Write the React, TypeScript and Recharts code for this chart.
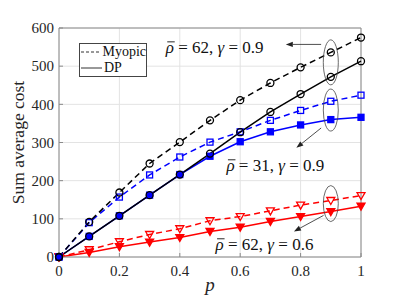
import { LineChart, Line, XAxis, YAxis, CartesianGrid, ReferenceLine, ReferenceDot, Legend } from 'recharts';

const P = [0, 0.1, 0.2, 0.3, 0.4, 0.5, 0.6, 0.7, 0.8, 0.9, 1];
const blackMyopic = [0, 92, 169, 245, 301, 358, 411, 456, 497, 536, 575];
const blackDP = [0, 54, 108, 162, 216, 271, 327, 380, 427, 472, 513];
const blueMyopic = [0, 90, 157, 215, 262, 301, 328, 358, 384, 408, 424];
const blueDP = [0, 54, 108, 162, 216, 264, 302, 328, 346, 360, 366];
const redMyopic = [0, 19, 40, 59, 74, 95, 106, 121, 136, 148, 161];
const redDP = [0, 12, 27, 39, 51, 67, 78, 93, 106, 119, 133];

const xTicks = [0, 0.2, 0.4, 0.6, 0.8, 1];
const yTicks = [0, 100, 200, 300, 400, 500, 600];

// annotation anchors in data units: [p, value]
const ellipses = [
  { p: 0.9, v: 510, ry: 22.5 },
  { p: 0.9, v: 385, ry: 21 },
  { p: 0.9, v: 140, ry: 18 },
];
const arrows = [
  { from: [0.868, 557], to: [0.751, 557] },
  { from: [0.868, 338], to: [0.786, 286] },
  { from: [0.876, 109], to: [0.778, 67] },
];
const notes = [
  { p: 0.519, v: 548, rho: '62', gamma: '0.9' },
  { p: 0.72, v: 239, rho: '31', gamma: '0.9' },
  { p: 0.684, v: 32, rho: '62', gamma: '0.6' },
];

const data = P.map((p, i) => ({
  p,
  bm: blackMyopic[i],
  bd: blackDP[i],
  um: blueMyopic[i],
  ud: blueDP[i],
  rm: redMyopic[i],
  rd: redDP[i],
}));

const FONT = 'Liberation Serif, DejaVu Serif';

function marker(kind: string, color: string, filled: boolean) {
  return (props: any) => {
    const { cx, cy, index } = props;
    const fill = filled ? color : 'none';
    if (kind === 'square') {
      return <rect key={index} x={cx - 3} y={cy - 3} width={6} height={6} fill={fill} stroke={color} strokeWidth={1.3} />;
    }
    if (kind === 'tri') {
      return (
        <polygon
          key={index}
          points={`${cx - 4},${cy - 3} ${cx + 4},${cy - 3} ${cx},${cy + 4}`}
          fill={fill}
          stroke={color}
          strokeWidth={1.3}
        />
      );
    }
    return <circle key={index} cx={cx} cy={cy} r={3.5} fill={fill} stroke={color} strokeWidth={1.3} />;
  };
}

function Arrow(props: any) {
  const { x1, y1, x2, y2 } = props;
  const a = Math.atan2(y2 - y1, x2 - x1);
  const L = 7;
  const W = 2.6;
  const bx = x2 - L * Math.cos(a);
  const by = y2 - L * Math.sin(a);
  const px = -Math.sin(a) * W;
  const py = Math.cos(a) * W;
  return (
    <g>
      <line x1={x1} y1={y1} x2={bx} y2={by} stroke="#222" strokeWidth={0.8} />
      <polygon points={`${x2},${y2} ${bx + px},${by + py} ${bx - px},${by - py}`} fill="#222" />
    </g>
  );
}

// text block about 100px wide, starting at cx - 50
function Note(rho: string, gamma: string) {
  return (props: any) => {
    const x0 = props.cx - 50;
    const y = props.cy + 5;
    return (
      <g>
        <text x={x0} y={y} style={{ fontFamily: FONT, fontSize: 17 }} fill="#111">
          <tspan fontStyle="italic">ρ</tspan>
          <tspan> = {rho}, </tspan>
          <tspan fontStyle="italic">γ</tspan>
          <tspan> = {gamma}</tspan>
        </text>
        <line x1={x0 + 1.5} y1={y - 11} x2={x0 + 9} y2={y - 11} stroke="#111" strokeWidth={0.9} />
      </g>
    );
  };
}

function YLabel(props: any) {
  const vb = props.viewBox || { x: 0, y: 28, width: 59, height: 229 };
  const cx = vb.x + 18;
  const cy = vb.y + vb.height / 2;
  return (
    <text
      x={cx}
      y={cy}
      transform={`rotate(-90 ${cx} ${cy})`}
      textAnchor="middle"
      dominantBaseline="central"
      style={{ fontFamily: FONT, fontSize: 17.5 }}
      fill="#262626"
    >
      Sum average cost
    </text>
  );
}

function LegendBox() {
  const row = (dash: string | undefined, label: string) => (
    <div style={{ display: 'flex', alignItems: 'center', height: 16 }}>
      <svg width={23} height={6}>
        <line x1={1} y1={3} x2={22} y2={3} stroke="#333" strokeWidth={1} strokeDasharray={dash} />
      </svg>
      <span style={{ marginLeft: 1 }}>{label}</span>
    </div>
  );
  return (
    <div
      style={{
        border: '1px solid #444',
        background: '#fff',
        width: 66,
        height: 32,
        fontFamily: FONT,
        fontSize: 14,
        color: '#111',
        lineHeight: '16px',
        boxSizing: 'content-box',
      }}
    >
      {row('3 2', 'Myopic')}
      {row(undefined, 'DP')}
    </div>
  );
}

const tickStyle = { fill: '#262626', fontSize: 15, style: { fontFamily: FONT } };

export default function App() {
  return (
    <div style={{ position: 'absolute', left: 0, top: 0, background: '#fff', fontFamily: FONT }}>
      <LineChart width={399} height={299} data={data} margin={{ top: 28, right: 38, bottom: 0, left: 0 }}>
        <CartesianGrid stroke="#e3e3e3" strokeWidth={1} />
        <XAxis
          dataKey="p"
          type="number"
          domain={[0, 1]}
          ticks={xTicks}
          height={42}
          tickSize={-4}
          tickMargin={12}
          stroke="#8a8a8a"
          tick={tickStyle}
          tickFormatter={(v: number) => String(v)}
          label={{
            value: 'p',
            position: 'insideBottom',
            offset: 8,
            fontStyle: 'italic',
            fontSize: 19,
            fill: '#262626',
            style: { fontFamily: FONT },
          }}
        />
        <YAxis
          type="number"
          domain={[0, 600]}
          ticks={yTicks}
          width={59}
          tickSize={-4}
          tickMargin={9}
          stroke="#8a8a8a"
          tick={tickStyle}
          label={<YLabel />}
        />
        <ReferenceLine y={600} stroke="#8a8a8a" />
        <ReferenceLine x={1} stroke="#8a8a8a" />

        <Line dataKey="rm" stroke="#ff0000" strokeWidth={1.5} strokeDasharray="6 4" dot={marker('tri', '#ff0000', false)} isAnimationActive={false} />
        <Line dataKey="rd" stroke="#ff0000" strokeWidth={1.5} dot={marker('tri', '#ff0000', true)} isAnimationActive={false} />
        <Line dataKey="um" stroke="#0000ff" strokeWidth={1.5} strokeDasharray="6 4" dot={marker('square', '#0000ff', false)} isAnimationActive={false} />
        <Line dataKey="ud" stroke="#0000ff" strokeWidth={1.5} dot={marker('square', '#0000ff', true)} isAnimationActive={false} />
        <Line dataKey="bm" stroke="#000" strokeWidth={1.5} strokeDasharray="6 4" dot={marker('circle', '#000', false)} isAnimationActive={false} />
        <Line dataKey="bd" stroke="#000" strokeWidth={1.5} dot={marker('circle', '#000', false)} isAnimationActive={false} />

        {ellipses.map((e, i) => (
          <ReferenceDot
            key={'e' + i}
            x={e.p}
            y={e.v}
            shape={(props: any) => <ellipse cx={props.cx} cy={props.cy} rx={7.5} ry={e.ry} fill="none" stroke="#444" strokeWidth={0.8} />}
          />
        ))}
        {arrows.map((a, i) => (
          <ReferenceLine
            key={'a' + i}
            segment={[
              { x: a.from[0], y: a.from[1] },
              { x: a.to[0], y: a.to[1] },
            ]}
            shape={Arrow}
          />
        ))}
        {notes.map((n, i) => (
          <ReferenceDot key={'n' + i} x={n.p} y={n.v} shape={Note(n.rho, n.gamma)} />
        ))}

        <Legend
          layout="vertical"
          align="center"
          verticalAlign="middle"
          content={() => <LegendBox />}
          wrapperStyle={{ position: 'absolute', left: 79, top: 43, width: 'auto' }}
        />
      </LineChart>
    </div>
  );
}
